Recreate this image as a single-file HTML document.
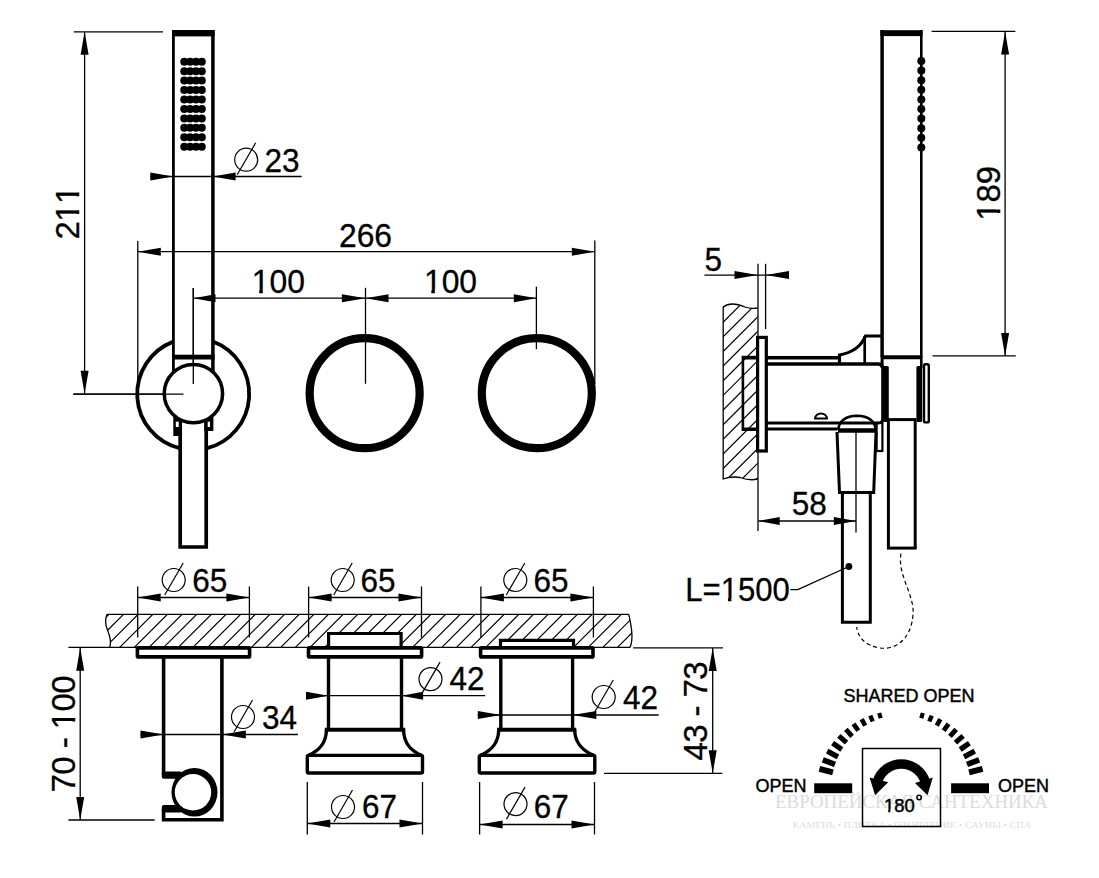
<!DOCTYPE html>
<html><head><meta charset="utf-8"><style>html,body{margin:0;padding:0;background:#fff;} svg{display:block}</style></head>
<body><svg width="1099" height="878" viewBox="0 0 1099 878" font-family="'Liberation Sans', sans-serif" stroke="#000" fill="none">
<rect x="0" y="0" width="1099" height="878" fill="#fff" stroke="none"/>
<line x1="73.70" y1="31.80" x2="163.00" y2="31.80" stroke-width="1.3" />
<line x1="84.60" y1="31.80" x2="84.60" y2="393.80" stroke-width="1.3" />
<path d="M84.60,31.80 L88.60,54.80 L80.60,54.80 Z" fill="#000" stroke="none"/>
<path d="M84.60,393.80 L80.60,370.80 L88.60,370.80 Z" fill="#000" stroke="none"/>
<line x1="73.30" y1="394.20" x2="183.50" y2="394.20" stroke-width="1.3" />
<clipPath id="nf1"><path clip-rule="evenodd" d="M-5000,-5000 H10000 V10000 H-5000 Z M70.63,208.90 H77.83 V214.00 H70.63 Z M81.43,208.90 H88.53 V214.00 H81.43 Z M88.40,208.90 H95.60 V214.00 H88.40 Z M99.20,208.90 H106.30 V214.00 H99.20 Z"/></clipPath>
<text x="52.35 70.13 87.90" y="212.50" font-size="33" transform="rotate(-90 79.30 212.50)" clip-path="url(#nf1)" fill="#000" stroke="#000" stroke-width="0.3">211</text>
<line x1="173.40" y1="30.00" x2="173.40" y2="372.00" stroke-width="2.8" />
<line x1="212.90" y1="30.00" x2="212.90" y2="372.00" stroke-width="3.5" />
<rect x="172.00" y="30.00" width="42.60" height="6.40" rx="0" stroke-width="0" fill="#000"/>
<rect x="172.00" y="354.70" width="42.60" height="4.80" rx="0" stroke-width="0" fill="#000"/>
<circle cx="184.25" cy="61.70" r="4.00" stroke-width="0" fill="#000" />
<circle cx="190.10" cy="61.70" r="4.00" stroke-width="0" fill="#000" />
<circle cx="195.95" cy="61.70" r="4.00" stroke-width="0" fill="#000" />
<circle cx="201.80" cy="61.70" r="4.00" stroke-width="0" fill="#000" />
<circle cx="184.25" cy="71.15" r="4.00" stroke-width="0" fill="#000" />
<circle cx="190.10" cy="71.15" r="4.00" stroke-width="0" fill="#000" />
<circle cx="195.95" cy="71.15" r="4.00" stroke-width="0" fill="#000" />
<circle cx="201.80" cy="71.15" r="4.00" stroke-width="0" fill="#000" />
<circle cx="184.25" cy="80.60" r="4.00" stroke-width="0" fill="#000" />
<circle cx="190.10" cy="80.60" r="4.00" stroke-width="0" fill="#000" />
<circle cx="195.95" cy="80.60" r="4.00" stroke-width="0" fill="#000" />
<circle cx="201.80" cy="80.60" r="4.00" stroke-width="0" fill="#000" />
<circle cx="184.25" cy="90.05" r="4.00" stroke-width="0" fill="#000" />
<circle cx="190.10" cy="90.05" r="4.00" stroke-width="0" fill="#000" />
<circle cx="195.95" cy="90.05" r="4.00" stroke-width="0" fill="#000" />
<circle cx="201.80" cy="90.05" r="4.00" stroke-width="0" fill="#000" />
<circle cx="184.25" cy="99.50" r="4.00" stroke-width="0" fill="#000" />
<circle cx="190.10" cy="99.50" r="4.00" stroke-width="0" fill="#000" />
<circle cx="195.95" cy="99.50" r="4.00" stroke-width="0" fill="#000" />
<circle cx="201.80" cy="99.50" r="4.00" stroke-width="0" fill="#000" />
<circle cx="184.25" cy="108.95" r="4.00" stroke-width="0" fill="#000" />
<circle cx="190.10" cy="108.95" r="4.00" stroke-width="0" fill="#000" />
<circle cx="195.95" cy="108.95" r="4.00" stroke-width="0" fill="#000" />
<circle cx="201.80" cy="108.95" r="4.00" stroke-width="0" fill="#000" />
<circle cx="184.25" cy="118.40" r="4.00" stroke-width="0" fill="#000" />
<circle cx="190.10" cy="118.40" r="4.00" stroke-width="0" fill="#000" />
<circle cx="195.95" cy="118.40" r="4.00" stroke-width="0" fill="#000" />
<circle cx="201.80" cy="118.40" r="4.00" stroke-width="0" fill="#000" />
<circle cx="184.25" cy="127.85" r="4.00" stroke-width="0" fill="#000" />
<circle cx="190.10" cy="127.85" r="4.00" stroke-width="0" fill="#000" />
<circle cx="195.95" cy="127.85" r="4.00" stroke-width="0" fill="#000" />
<circle cx="201.80" cy="127.85" r="4.00" stroke-width="0" fill="#000" />
<circle cx="184.25" cy="137.30" r="4.00" stroke-width="0" fill="#000" />
<circle cx="190.10" cy="137.30" r="4.00" stroke-width="0" fill="#000" />
<circle cx="195.95" cy="137.30" r="4.00" stroke-width="0" fill="#000" />
<circle cx="201.80" cy="137.30" r="4.00" stroke-width="0" fill="#000" />
<circle cx="184.25" cy="146.75" r="4.00" stroke-width="0" fill="#000" />
<circle cx="190.10" cy="146.75" r="4.00" stroke-width="0" fill="#000" />
<circle cx="195.95" cy="146.75" r="4.00" stroke-width="0" fill="#000" />
<circle cx="201.80" cy="146.75" r="4.00" stroke-width="0" fill="#000" />
<line x1="150.30" y1="176.50" x2="301.60" y2="176.50" stroke-width="1.3" />
<path d="M173.20,176.50 L150.30,180.50 L150.30,172.50 Z" fill="#000" stroke="none"/>
<path d="M212.90,176.50 L235.60,172.50 L235.60,180.50 Z" fill="#000" stroke="none"/>
<circle cx="246.20" cy="159.70" r="11.50" stroke-width="1.2" fill="none" />
<line x1="255.70" y1="142.70" x2="237.20" y2="174.70" stroke-width="1.2" />
<text x="264.50" y="172.00" font-size="33" textLength="35.04468000000001"  fill="#000" stroke="#000" stroke-width="0.3" lengthAdjust="spacingAndGlyphs">23</text>
<line x1="137.80" y1="251.70" x2="594.80" y2="251.70" stroke-width="1.3" />
<line x1="137.80" y1="241.00" x2="137.80" y2="394.00" stroke-width="1.3" />
<line x1="594.80" y1="240.50" x2="594.80" y2="384.00" stroke-width="1.3" />
<path d="M137.80,251.70 L160.80,247.70 L160.80,255.70 Z" fill="#000" stroke="none"/>
<path d="M594.80,251.70 L571.80,255.70 L571.80,247.70 Z" fill="#000" stroke="none"/>
<text x="338.94" y="246.80" font-size="33" textLength="53.11746000000001"  fill="#000" stroke="#000" stroke-width="0.3" lengthAdjust="spacingAndGlyphs">266</text>
<line x1="193.30" y1="298.20" x2="536.40" y2="298.20" stroke-width="1.3" />
<line x1="193.30" y1="287.90" x2="193.30" y2="384.00" stroke-width="1.3" />
<line x1="365.50" y1="287.80" x2="365.50" y2="383.80" stroke-width="1.3" />
<line x1="536.40" y1="286.60" x2="536.40" y2="349.20" stroke-width="1.3" />
<path d="M193.30,298.20 L215.50,294.20 L215.50,302.20 Z" fill="#000" stroke="none"/>
<path d="M365.50,298.20 L341.90,302.20 L341.90,294.20 Z" fill="#000" stroke="none"/>
<path d="M365.50,298.20 L388.50,294.20 L388.50,302.20 Z" fill="#000" stroke="none"/>
<path d="M536.40,298.20 L513.80,302.20 L513.80,294.20 Z" fill="#000" stroke="none"/>
<clipPath id="nf2"><path clip-rule="evenodd" d="M-5000,-5000 H10000 V10000 H-5000 Z M252.32,289.30 H259.27 V294.40 H252.32 Z M262.75,289.30 H269.60 V294.40 H262.75 Z"/></clipPath>
<text x="251.84" y="292.90" font-size="33" textLength="53.11746000000001"  clip-path="url(#nf2)" fill="#000" stroke="#000" stroke-width="0.3" lengthAdjust="spacingAndGlyphs">100</text>
<clipPath id="nf3"><path clip-rule="evenodd" d="M-5000,-5000 H10000 V10000 H-5000 Z M424.42,289.60 H431.37 V294.70 H424.42 Z M434.85,289.60 H441.70 V294.70 H434.85 Z"/></clipPath>
<text x="423.94" y="293.20" font-size="33" textLength="53.11746000000001"  clip-path="url(#nf3)" fill="#000" stroke="#000" stroke-width="0.3" lengthAdjust="spacingAndGlyphs">100</text>
<path d="M173.40,341.62 A56.0,56.0 0 0 0 180.20,448.47" stroke-width="3.8" fill="none" />
<path d="M206.50,448.40 A56.0,56.0 0 0 0 212.90,341.58" stroke-width="3.8" fill="none" />
<path d="M180.2,421 L180.2,547 L206.2,547 L206.2,421" stroke-width="3.7" fill="none" />
<rect x="173.30" y="417.00" width="8.70" height="19.00" rx="0" stroke-width="0" fill="#000"/>
<rect x="204.30" y="417.00" width="9.10" height="14.00" rx="0" stroke-width="0" fill="#000"/>
<rect x="175.80" y="421.70" width="2.90" height="5.30" rx="0" stroke-width="0" fill="#fff"/>
<rect x="207.70" y="421.70" width="2.30" height="5.30" rx="0" stroke-width="0" fill="#fff"/>
<circle cx="193.40" cy="393.60" r="29.20" stroke-width="3.5" fill="#fff" />
<line x1="73.30" y1="394.20" x2="183.50" y2="394.20" stroke-width="1.3" />
<line x1="193.30" y1="287.90" x2="193.30" y2="384.00" stroke-width="1.3" />
<circle cx="364.65" cy="393.20" r="55.00" stroke-width="8.2" fill="none" />
<circle cx="536.80" cy="393.20" r="55.00" stroke-width="8.2" fill="none" />
<clipPath id="cw"><path d="M107,614.3 L628.8,614.3 C631,625 634,638 630,647.4 L109.7,647.4 C111.5,642 110,636 107.5,630 C105,624 105.5,618 107,614.3 Z"/></clipPath>
<g clip-path="url(#cw)"><path d="M31.90,647.4 L65.00,614.3 M46.54,647.4 L79.64,614.3 M61.18,647.4 L94.28,614.3 M75.82,647.4 L108.92,614.3 M90.46,647.4 L123.56,614.3 M105.10,647.4 L138.20,614.3 M119.74,647.4 L152.84,614.3 M134.38,647.4 L167.48,614.3 M149.02,647.4 L182.12,614.3 M163.66,647.4 L196.76,614.3 M178.30,647.4 L211.40,614.3 M192.94,647.4 L226.04,614.3 M207.58,647.4 L240.68,614.3 M222.22,647.4 L255.32,614.3 M236.86,647.4 L269.96,614.3 M251.50,647.4 L284.60,614.3 M266.14,647.4 L299.24,614.3 M280.78,647.4 L313.88,614.3 M295.42,647.4 L328.52,614.3 M310.06,647.4 L343.16,614.3 M324.70,647.4 L357.80,614.3 M339.34,647.4 L372.44,614.3 M353.98,647.4 L387.08,614.3 M368.62,647.4 L401.72,614.3 M383.26,647.4 L416.36,614.3 M397.90,647.4 L431.00,614.3 M412.54,647.4 L445.64,614.3 M427.18,647.4 L460.28,614.3 M441.82,647.4 L474.92,614.3 M456.46,647.4 L489.56,614.3 M471.10,647.4 L504.20,614.3 M485.74,647.4 L518.84,614.3 M500.38,647.4 L533.48,614.3 M515.02,647.4 L548.12,614.3 M529.66,647.4 L562.76,614.3 M544.30,647.4 L577.40,614.3 M558.94,647.4 L592.04,614.3 M573.58,647.4 L606.68,614.3 M588.22,647.4 L621.32,614.3 M602.86,647.4 L635.96,614.3 M617.50,647.4 L650.60,614.3 M632.14,647.4 L665.24,614.3 M646.78,647.4 L679.88,614.3 M661.42,647.4 L694.52,614.3 M676.06,647.4 L709.16,614.3 M690.70,647.4 L723.80,614.3 M705.34,647.4 L738.44,614.3 M719.98,647.4 L753.08,614.3 M734.62,647.4 L767.72,614.3 M749.26,647.4 L782.36,614.3 M763.90,647.4 L797.00,614.3 M778.54,647.4 L811.64,614.3 M793.18,647.4 L826.28,614.3 M807.82,647.4 L840.92,614.3 M822.46,647.4 L855.56,614.3 M837.10,647.4 L870.20,614.3 M851.74,647.4 L884.84,614.3 M866.38,647.4 L899.48,614.3 M881.02,647.4 L914.12,614.3 M895.66,647.4 L928.76,614.3" stroke-width="1.2"/></g>
<rect x="328.60" y="633.50" width="72.50" height="13.90" rx="0" stroke-width="0" fill="#fff"/>
<rect x="500.50" y="640.30" width="73.00" height="7.10" rx="0" stroke-width="0" fill="#fff"/>
<line x1="68.40" y1="647.40" x2="630.00" y2="647.40" stroke-width="1.3" />
<line x1="107.00" y1="614.30" x2="628.80" y2="614.30" stroke-width="1.3" />
<path d="M107,614.3 C105.5,618 105,624 107.5,630 C110,636 111.5,642 109.7,647.4" stroke-width="1.3" fill="none" />
<path d="M628.8,614.3 C631,625 634,638 630,647.4" stroke-width="1.3" fill="none" />
<line x1="633.20" y1="647.90" x2="722.90" y2="647.90" stroke-width="1.3" />
<path d="M328.6,647.4 L328.6,633.5 L401.1,633.5 L401.1,647.4" stroke-width="3.2" fill="none" />
<path d="M500.5,647.4 L500.5,640.3 L573.5,640.3 L573.5,647.4" stroke-width="3.2" fill="none" />
<rect x="137.40" y="647.90" width="112.20" height="9.00" rx="1" stroke-width="3.6" fill="#fff"/>
<rect x="308.50" y="647.90" width="113.10" height="9.00" rx="1" stroke-width="3.6" fill="#fff"/>
<rect x="480.60" y="647.90" width="112.40" height="9.00" rx="1" stroke-width="3.6" fill="#fff"/>
<line x1="137.70" y1="586.50" x2="137.70" y2="637.50" stroke-width="1.3" />
<line x1="249.40" y1="586.50" x2="249.40" y2="637.50" stroke-width="1.3" />
<line x1="137.70" y1="597.50" x2="249.40" y2="597.50" stroke-width="1.3" />
<path d="M137.70,597.50 L160.70,593.50 L160.70,601.50 Z" fill="#000" stroke="none"/>
<path d="M249.40,597.50 L226.40,601.50 L226.40,593.50 Z" fill="#000" stroke="none"/>
<circle cx="173.70" cy="580.00" r="11.50" stroke-width="1.2" fill="none" />
<line x1="183.20" y1="563.00" x2="164.70" y2="595.00" stroke-width="1.2" />
<text x="192.30" y="591.50" font-size="33" textLength="35.04468000000001"  fill="#000" stroke="#000" stroke-width="0.3" lengthAdjust="spacingAndGlyphs">65</text>
<line x1="308.60" y1="586.50" x2="308.60" y2="637.50" stroke-width="1.3" />
<line x1="421.50" y1="586.50" x2="421.50" y2="637.50" stroke-width="1.3" />
<line x1="308.60" y1="597.50" x2="421.50" y2="597.50" stroke-width="1.3" />
<path d="M308.60,597.50 L331.60,593.50 L331.60,601.50 Z" fill="#000" stroke="none"/>
<path d="M421.50,597.50 L398.50,601.50 L398.50,593.50 Z" fill="#000" stroke="none"/>
<circle cx="342.70" cy="580.00" r="11.50" stroke-width="1.2" fill="none" />
<line x1="352.20" y1="563.00" x2="333.70" y2="595.00" stroke-width="1.2" />
<text x="360.50" y="591.50" font-size="33" textLength="35.04468000000001"  fill="#000" stroke="#000" stroke-width="0.3" lengthAdjust="spacingAndGlyphs">65</text>
<line x1="480.90" y1="586.50" x2="480.90" y2="637.50" stroke-width="1.3" />
<line x1="593.40" y1="586.50" x2="593.40" y2="637.50" stroke-width="1.3" />
<line x1="480.90" y1="597.50" x2="593.40" y2="597.50" stroke-width="1.3" />
<path d="M480.90,597.50 L503.90,593.50 L503.90,601.50 Z" fill="#000" stroke="none"/>
<path d="M593.40,597.50 L570.40,601.50 L570.40,593.50 Z" fill="#000" stroke="none"/>
<circle cx="515.30" cy="580.00" r="11.50" stroke-width="1.2" fill="none" />
<line x1="524.80" y1="563.00" x2="506.30" y2="595.00" stroke-width="1.2" />
<text x="533.50" y="591.50" font-size="33" textLength="35.04468000000001"  fill="#000" stroke="#000" stroke-width="0.3" lengthAdjust="spacingAndGlyphs">65</text>
<path d="M163.6,657.8 L163.6,775" stroke-width="3.6" fill="none" />
<path d="M221.9,657.8 L221.9,819.7 L163.6,819.7 L163.6,809" stroke-width="3.6" fill="none" />
<rect x="161.80" y="771.40" width="20.20" height="7.30" rx="2" stroke-width="0" fill="#000"/>
<rect x="161.80" y="805.10" width="20.20" height="7.30" rx="2" stroke-width="0" fill="#000"/>
<ellipse cx="194.5" cy="792.2" rx="23" ry="24.3" fill="#000" stroke="none"/>
<circle cx="193" cy="792.3" r="18.2" fill="#fff" stroke="none"/>
<line x1="140.50" y1="734.50" x2="297.90" y2="734.50" stroke-width="1.3" />
<path d="M163.50,734.50 L140.50,738.50 L140.50,730.50 Z" fill="#000" stroke="none"/>
<path d="M222.20,734.50 L245.80,730.50 L245.80,738.50 Z" fill="#000" stroke="none"/>
<circle cx="243.00" cy="717.00" r="11.50" stroke-width="1.2" fill="none" />
<line x1="252.50" y1="700.00" x2="234.00" y2="732.00" stroke-width="1.2" />
<text x="262.00" y="729.30" font-size="33" textLength="35.04468000000001"  fill="#000" stroke="#000" stroke-width="0.3" lengthAdjust="spacingAndGlyphs">34</text>
<line x1="80.20" y1="647.70" x2="80.20" y2="820.00" stroke-width="1.3" />
<path d="M80.20,647.70 L84.20,670.70 L76.20,670.70 Z" fill="#000" stroke="none"/>
<path d="M80.20,820.00 L76.20,797.00 L84.20,797.00 Z" fill="#000" stroke="none"/>
<line x1="68.40" y1="820.00" x2="154.70" y2="820.00" stroke-width="1.3" />
<clipPath id="nf4"><path clip-rule="evenodd" d="M-5000,-5000 H10000 V10000 H-5000 Z M80.12,730.30 H87.32 V735.40 H80.12 Z M90.92,730.30 H98.02 V735.40 H90.92 Z"/></clipPath>
<text x="16.50 34.27 52.03 60.62 71.03 79.62 97.39 115.15" y="733.90" font-size="33" transform="rotate(-90 75.00 733.90)" clip-path="url(#nf4)" fill="#000" stroke="#000" stroke-width="0.3">70 - 100</text>
<path d="M328.5,657.8 L328.5,729.7" stroke-width="3.4" fill="none" />
<path d="M401.5,657.8 L401.5,729.7" stroke-width="3.4" fill="none" />
<line x1="324.80" y1="729.70" x2="405.20" y2="729.70" stroke-width="4" />
<path d="M326.5,729.7 C326.0,746 316.3,752 308.3,755.4" stroke-width="3.4" fill="none" />
<path d="M403.5,729.7 C404.0,746 413.5,752 421.5,755.4" stroke-width="3.4" fill="none" />
<rect x="307.30" y="755.40" width="115.20" height="17.60" rx="1.5" stroke-width="3.4" fill="none"/>
<path d="M500.8,657.8 L500.8,729.7" stroke-width="3.4" fill="none" />
<path d="M572.6,657.8 L572.6,729.7" stroke-width="3.4" fill="none" />
<line x1="497.10" y1="729.70" x2="576.30" y2="729.70" stroke-width="4" />
<path d="M498.8,729.7 C498.3,746 488.3,752 480.3,755.4" stroke-width="3.4" fill="none" />
<path d="M574.6,729.7 C575.1,746 585.8,752 593.8,755.4" stroke-width="3.4" fill="none" />
<rect x="479.30" y="755.40" width="115.50" height="17.60" rx="1.5" stroke-width="3.4" fill="none"/>
<line x1="306.00" y1="695.70" x2="485.20" y2="695.70" stroke-width="1.3" />
<path d="M328.50,695.70 L306.00,699.70 L306.00,691.70 Z" fill="#000" stroke="none"/>
<path d="M401.50,695.70 L423.10,691.70 L423.10,699.70 Z" fill="#000" stroke="none"/>
<circle cx="430.50" cy="679.10" r="11.50" stroke-width="1.2" fill="none" />
<line x1="440.00" y1="662.10" x2="421.50" y2="694.10" stroke-width="1.2" />
<text x="449.50" y="690.10" font-size="33" textLength="35.04468000000001"  fill="#000" stroke="#000" stroke-width="0.3" lengthAdjust="spacingAndGlyphs">42</text>
<line x1="477.80" y1="715.00" x2="658.70" y2="715.00" stroke-width="1.3" />
<path d="M500.80,715.00 L477.80,719.00 L477.80,711.00 Z" fill="#000" stroke="none"/>
<path d="M572.60,715.00 L596.30,711.00 L596.30,719.00 Z" fill="#000" stroke="none"/>
<circle cx="603.70" cy="697.00" r="11.50" stroke-width="1.2" fill="none" />
<line x1="613.20" y1="680.00" x2="594.70" y2="712.00" stroke-width="1.2" />
<text x="622.90" y="708.60" font-size="33" textLength="35.04468000000001"  fill="#000" stroke="#000" stroke-width="0.3" lengthAdjust="spacingAndGlyphs">42</text>
<line x1="307.30" y1="782.00" x2="307.30" y2="834.50" stroke-width="1.3" />
<line x1="422.50" y1="782.00" x2="422.50" y2="834.50" stroke-width="1.3" />
<line x1="307.30" y1="823.50" x2="422.50" y2="823.50" stroke-width="1.3" />
<path d="M307.30,823.50 L330.30,819.50 L330.30,827.50 Z" fill="#000" stroke="none"/>
<path d="M422.50,823.50 L399.50,827.50 L399.50,819.50 Z" fill="#000" stroke="none"/>
<circle cx="343.00" cy="807.00" r="11.50" stroke-width="1.2" fill="none" />
<line x1="352.50" y1="790.00" x2="334.00" y2="822.00" stroke-width="1.2" />
<text x="362.10" y="817.80" font-size="33" textLength="35.04468000000001"  fill="#000" stroke="#000" stroke-width="0.3" lengthAdjust="spacingAndGlyphs">67</text>
<line x1="479.60" y1="782.00" x2="479.60" y2="834.50" stroke-width="1.3" />
<line x1="594.50" y1="782.00" x2="594.50" y2="834.50" stroke-width="1.3" />
<line x1="479.60" y1="824.50" x2="594.50" y2="824.50" stroke-width="1.3" />
<path d="M479.60,824.50 L502.60,820.50 L502.60,828.50 Z" fill="#000" stroke="none"/>
<path d="M594.50,824.50 L571.50,828.50 L571.50,820.50 Z" fill="#000" stroke="none"/>
<circle cx="515.50" cy="804.10" r="11.50" stroke-width="1.2" fill="none" />
<line x1="525.00" y1="787.10" x2="506.50" y2="819.10" stroke-width="1.2" />
<text x="533.70" y="818.20" font-size="33" textLength="35.04468000000001"  fill="#000" stroke="#000" stroke-width="0.3" lengthAdjust="spacingAndGlyphs">67</text>
<line x1="712.70" y1="648.00" x2="712.70" y2="773.30" stroke-width="1.3" />
<path d="M712.70,648.00 L716.70,671.00 L708.70,671.00 Z" fill="#000" stroke="none"/>
<path d="M712.70,773.30 L708.70,750.30 L716.70,750.30 Z" fill="#000" stroke="none"/>
<line x1="604.00" y1="773.30" x2="722.40" y2="773.30" stroke-width="1.3" />
<text x="657.20 674.93 692.65 701.21 711.57 720.13 737.85" y="710.90" font-size="33" transform="rotate(-90 706.70 710.90)" fill="#000" stroke="#000" stroke-width="0.3">43 - 73</text>
<clipPath id="cs"><path d="M723.2,307 Q731,301 745,307 Q751,309 757.6,308 L757.6,479 Q750,481 740,477.5 Q731,476 723.2,479 Z"/></clipPath>
<g clip-path="url(#cs)"><path d="M418.90,480 L598.90,300 M433.54,480 L613.54,300 M448.18,480 L628.18,300 M462.82,480 L642.82,300 M477.46,480 L657.46,300 M492.10,480 L672.10,300 M506.74,480 L686.74,300 M521.38,480 L701.38,300 M536.02,480 L716.02,300 M550.66,480 L730.66,300 M565.30,480 L745.30,300 M579.94,480 L759.94,300 M594.58,480 L774.58,300 M609.22,480 L789.22,300 M623.86,480 L803.86,300 M638.50,480 L818.50,300 M653.14,480 L833.14,300 M667.78,480 L847.78,300 M682.42,480 L862.42,300 M697.06,480 L877.06,300 M711.70,480 L891.70,300 M726.34,480 L906.34,300 M740.98,480 L920.98,300 M755.62,480 L935.62,300 M770.26,480 L950.26,300 M784.90,480 L964.90,300 M799.54,480 L979.54,300 M814.18,480 L994.18,300 M828.82,480 L1008.82,300 M843.46,480 L1023.46,300 M858.10,480 L1038.10,300 M872.74,480 L1052.74,300 M887.38,480 L1067.38,300 M902.02,480 L1082.02,300 M916.66,480 L1096.66,300 M931.30,480 L1111.30,300 M945.94,480 L1125.94,300 M960.58,480 L1140.58,300 M975.22,480 L1155.22,300 M989.86,480 L1169.86,300" stroke-width="1.2"/></g>
<path d="M757.6,308 Q751,309 745,307 Q731,301 723.2,307 L723.2,479 Q731,476 740,477.5 Q750,481 757.6,479" stroke-width="1.3" fill="none" />
<line x1="758.00" y1="263.80" x2="758.00" y2="531.00" stroke-width="1.3" />
<line x1="765.60" y1="263.80" x2="765.60" y2="329.00" stroke-width="1.3" />
<line x1="704.40" y1="275.10" x2="789.00" y2="275.10" stroke-width="1.3" />
<path d="M757.70,275.10 L734.50,279.10 L734.50,271.10 Z" fill="#000" stroke="none"/>
<path d="M765.80,275.10 L789.00,271.10 L789.00,279.10 Z" fill="#000" stroke="none"/>
<text x="704.50" y="270.70" font-size="33" textLength="17.522340000000003"  fill="#000" stroke="#000" stroke-width="0.3" lengthAdjust="spacingAndGlyphs">5</text>
<rect x="742.90" y="357.10" width="14.50" height="72.60" rx="0" stroke-width="2.6" fill="none"/>
<line x1="743.00" y1="357.75" x2="839.50" y2="357.75" stroke-width="3.4" />
<path d="M766,364 L878,364 Q882,364 883,368" stroke-width="3.3" fill="none" />
<path d="M766,423 L878,423 Q882,423 883,419" stroke-width="3.0" fill="none" />
<line x1="743.00" y1="429.00" x2="837.00" y2="429.00" stroke-width="3" />
<rect x="757.60" y="337.40" width="8.70" height="113.60" rx="0" stroke-width="3.2" fill="#fff"/>
<path d="M839.5,364 L839.5,355 Q859,351.5 865.5,336 L882,336" stroke-width="3.2" fill="none" />
<line x1="864.70" y1="336.00" x2="864.70" y2="364.00" stroke-width="2.7" />
<line x1="882.10" y1="30.00" x2="882.10" y2="357.00" stroke-width="3.5" />
<line x1="921.30" y1="30.00" x2="921.30" y2="357.00" stroke-width="2.6" />
<rect x="880.40" y="30.20" width="42.10" height="5.90" rx="0" stroke-width="0" fill="#000"/>
<line x1="882.00" y1="357.20" x2="921.30" y2="357.20" stroke-width="4" />
<circle cx="921.30" cy="61.00" r="4.00" stroke-width="0" fill="#000" />
<circle cx="921.30" cy="70.60" r="4.00" stroke-width="0" fill="#000" />
<circle cx="921.30" cy="80.20" r="4.00" stroke-width="0" fill="#000" />
<circle cx="921.30" cy="89.80" r="4.00" stroke-width="0" fill="#000" />
<circle cx="921.30" cy="99.40" r="4.00" stroke-width="0" fill="#000" />
<circle cx="921.30" cy="109.00" r="4.00" stroke-width="0" fill="#000" />
<circle cx="921.30" cy="118.60" r="4.00" stroke-width="0" fill="#000" />
<circle cx="921.30" cy="128.20" r="4.00" stroke-width="0" fill="#000" />
<circle cx="921.30" cy="137.80" r="4.00" stroke-width="0" fill="#000" />
<circle cx="921.30" cy="147.40" r="4.00" stroke-width="0" fill="#000" />
<line x1="931.60" y1="31.40" x2="1015.40" y2="31.40" stroke-width="1.3" />
<line x1="1005.10" y1="31.40" x2="1005.10" y2="355.90" stroke-width="1.3" />
<path d="M1005.10,31.40 L1009.10,54.40 L1001.10,54.40 Z" fill="#000" stroke="none"/>
<path d="M1005.10,355.90 L1001.10,332.90 L1009.10,332.90 Z" fill="#000" stroke="none"/>
<line x1="932.50" y1="355.90" x2="1015.80" y2="355.90" stroke-width="1.3" />
<clipPath id="nf5"><path clip-rule="evenodd" d="M-5000,-5000 H10000 V10000 H-5000 Z M972.68,189.70 H979.88 V194.80 H972.68 Z M983.48,189.70 H990.58 V194.80 H983.48 Z"/></clipPath>
<text x="972.18 990.53 1008.87" y="193.30" font-size="33" transform="rotate(-90 999.70 193.30)" clip-path="url(#nf5)" fill="#000" stroke="#000" stroke-width="0.3">189</text>
<line x1="882.10" y1="356.00" x2="882.10" y2="368.00" stroke-width="3" />
<line x1="921.30" y1="356.00" x2="921.30" y2="368.00" stroke-width="2.6" />
<rect x="924.00" y="364.20" width="4.80" height="58.20" rx="1.5" stroke-width="2.4" fill="#fff"/>
<rect x="881.20" y="366.00" width="7.60" height="56.00" rx="1.5" stroke-width="0" fill="#000"/>
<rect x="916.40" y="366.00" width="5.80" height="56.00" rx="1.5" stroke-width="0" fill="#000"/>
<line x1="888.00" y1="419.60" x2="916.50" y2="419.60" stroke-width="3" />
<line x1="888.40" y1="421.00" x2="888.40" y2="548.10" stroke-width="3" />
<line x1="915.20" y1="421.00" x2="915.20" y2="548.10" stroke-width="3" />
<line x1="887.00" y1="548.10" x2="916.60" y2="548.10" stroke-width="3" />
<path d="M838,430 Q840,416 857,415.7 Q874,416 876,430" stroke-width="2.6" fill="none" />
<line x1="838.00" y1="430.50" x2="876.00" y2="430.50" stroke-width="4.5" />
<path d="M837,432 L839.5,492.5 L873.7,492.5 L876,432" stroke-width="3" fill="none" />
<rect x="876.60" y="423.00" width="5.80" height="28.00" rx="0" stroke-width="2.2" fill="none"/>
<path d="M821,418.5 m-6,0 a6,5 0 0 1 12,0 z" stroke-width="2" fill="none" />
<path d="M842.4,493 L842.4,622.2 L870.3,622.2 L870.3,493" stroke-width="3" fill="none" />
<line x1="856.00" y1="432.00" x2="856.00" y2="532.40" stroke-width="1.3" />
<line x1="758.40" y1="521.00" x2="856.00" y2="521.00" stroke-width="1.3" />
<path d="M758.40,521.00 L779.70,517.00 L779.70,525.00 Z" fill="#000" stroke="none"/>
<path d="M856.00,521.00 L833.80,525.00 L833.80,517.00 Z" fill="#000" stroke="none"/>
<text x="791.80" y="515.30" font-size="33" textLength="35.04468000000001"  fill="#000" stroke="#000" stroke-width="0.3" lengthAdjust="spacingAndGlyphs">58</text>
<clipPath id="nf6"><path clip-rule="evenodd" d="M-5000,-5000 H10000 V10000 H-5000 Z M721.18,597.80 H727.96 V602.90 H721.18 Z M731.35,597.80 H738.03 V602.90 H731.35 Z"/></clipPath>
<text x="685.30" y="601.40" font-size="33" textLength="104.5"  clip-path="url(#nf6)" fill="#000" lengthAdjust="spacingAndGlyphs" stroke="#000" stroke-width="0.3">L=1500</text>
<path d="M790.4,589.6 L797.8,589.6 L848.9,566.5" stroke-width="1.3" fill="none" />
<circle cx="848.90" cy="566.50" r="3.40" stroke-width="0" fill="#000" />
<path d="M901,553.5 C897,575 915,595 913,615 C911,640 895,650 880,648 C866,646 858,638 856.7,627" stroke-width="1.2" fill="none" stroke-dasharray="4,3"/>
<g font-family="'Liberation Serif', serif" fill="#dcdcdc" stroke="none"><text x="775" y="808.3" font-size="19" textLength="273" lengthAdjust="spacingAndGlyphs">ЕВРОПЕЙСКАЯ САНТЕХНИКА</text><text x="792.4" y="827.8" font-size="8.5" textLength="238.8" lengthAdjust="spacingAndGlyphs">КАМЕНЬ • ПЛИТКА • ОТОПЛЕНИЕ • САУНЫ • СПА</text></g>
<text x="843.40" y="702.00" font-size="18" text-anchor="start" fill="#000" stroke="#000" stroke-width="0.45">SHARED OPEN</text>
<text x="755.50" y="791.70" font-size="18" text-anchor="start" fill="#000" stroke="#000" stroke-width="0.45">OPEN</text>
<text x="998.00" y="791.70" font-size="18" text-anchor="start" fill="#000" stroke="#000" stroke-width="0.45">OPEN</text>
<rect x="814.20" y="783.30" width="38.00" height="9.90" rx="0" stroke-width="0" fill="#000"/>
<rect x="951.10" y="783.30" width="37.90" height="9.90" rx="0" stroke-width="0" fill="#000"/>
<rect x="862.50" y="748.50" width="78.00" height="78.00" rx="0" stroke-width="1.5" fill="none"/>
<line x1="832.94" y1="772.40" x2="819.39" y2="768.89" stroke-width="5.80"/>
<line x1="834.99" y1="764.48" x2="822.81" y2="759.78" stroke-width="5.62"/>
<line x1="837.96" y1="756.81" x2="827.24" y2="751.17" stroke-width="5.44"/>
<line x1="841.83" y1="749.48" x2="832.61" y2="743.17" stroke-width="5.27"/>
<line x1="846.55" y1="742.61" x2="838.84" y2="735.90" stroke-width="5.09"/>
<line x1="852.07" y1="736.29" x2="845.82" y2="729.43" stroke-width="4.91"/>
<line x1="858.32" y1="730.61" x2="853.46" y2="723.84" stroke-width="4.73"/>
<line x1="865.24" y1="725.66" x2="861.65" y2="719.21" stroke-width="4.56"/>
<line x1="872.73" y1="721.53" x2="870.27" y2="715.57" stroke-width="4.38"/>
<line x1="880.70" y1="718.27" x2="879.20" y2="712.97" stroke-width="4.20"/>
<line x1="969.06" y1="772.40" x2="982.61" y2="768.89" stroke-width="5.80"/>
<line x1="967.01" y1="764.48" x2="979.19" y2="759.78" stroke-width="5.62"/>
<line x1="964.04" y1="756.81" x2="974.76" y2="751.17" stroke-width="5.44"/>
<line x1="960.17" y1="749.48" x2="969.39" y2="743.17" stroke-width="5.27"/>
<line x1="955.45" y1="742.61" x2="963.16" y2="735.90" stroke-width="5.09"/>
<line x1="949.93" y1="736.29" x2="956.18" y2="729.43" stroke-width="4.91"/>
<line x1="943.68" y1="730.61" x2="948.54" y2="723.84" stroke-width="4.73"/>
<line x1="936.76" y1="725.66" x2="940.35" y2="719.21" stroke-width="4.56"/>
<line x1="929.27" y1="721.53" x2="931.73" y2="715.57" stroke-width="4.38"/>
<line x1="921.30" y1="718.27" x2="922.80" y2="712.97" stroke-width="4.20"/>
<path d="M877.39,781.69 A25,25 0 0 1 925.21,781.69" stroke-width="9.6" fill="none" />
<path d="M875.1,795.3 L869.6,777.6 L888.2,782.3 Z" fill="#000" stroke="none"/>
<path d="M927.5,795.3 L932.8,777.6 L915.0,783.0 Z" fill="#000" stroke="none"/>
<clipPath id="nf7"><path clip-rule="evenodd" d="M-5000,-5000 H10000 V10000 H-5000 Z M884.28,809.73 H888.30 V812.66 H884.28 Z M890.31,809.73 H894.28 V812.66 H890.31 Z"/></clipPath>
<text x="884.00" y="811.80" font-size="19" textLength="30.741239999999998"  clip-path="url(#nf7)" fill="#000" stroke="#000" stroke-width="0.5" lengthAdjust="spacingAndGlyphs">180</text>
<circle cx="919.10" cy="797.50" r="2.20" stroke-width="1.5" fill="none" />
</svg></body></html>
